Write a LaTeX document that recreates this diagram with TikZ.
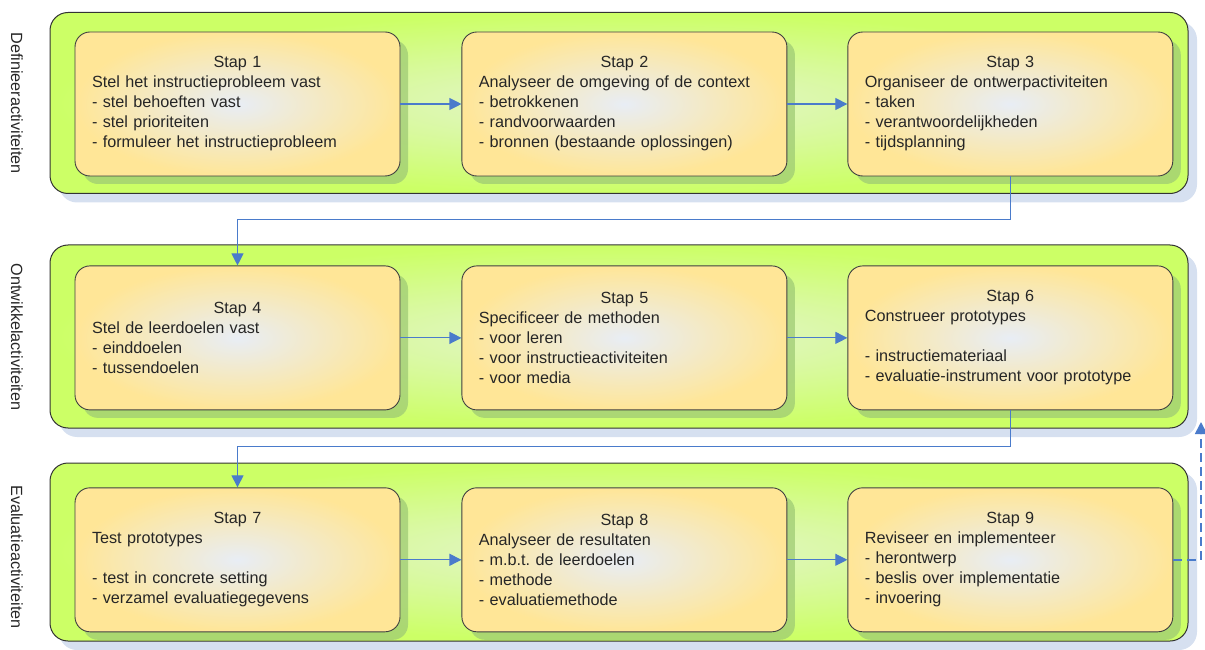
\documentclass[tikz,border=0pt]{standalone}
\usepackage{fontspec}
\setmainfont{Liberation Sans}
\usepackage{tikz}
\usetikzlibrary{arrows.meta, positioning, shadows}

\definecolor{limegreen}{HTML}{CCFF66}
\definecolor{palegreen}{HTML}{E4F4D2}
\definecolor{stepyellow}{HTML}{FFE697}
\definecolor{stepcenter}{HTML}{E8EDF5}
\definecolor{phaseshadow}{HTML}{D6E0F0}
\definecolor{stepshadow}{HTML}{9FCB74}
\definecolor{linkblue}{HTML}{4A7BCB}

\newcommand{\stephead}[1]{\makebox[\linewidth]{#1}}
\frenchspacing

\begin{document}
\begin{tikzpicture}[x=1pt,y=1pt,font=\fontsize{16.2}{20}\selectfont,
	phase/.style={draw=black!80,line width=1pt,rounded corners=18pt,inner sep=0pt,minimum width=1138pt,
		inner color=palegreen,outer color=limegreen,
		drop shadow={shadow xshift=9pt,shadow yshift=-9pt,fill=phaseshadow,opacity=1}},
	stepbox/.style={draw=black!75,line width=0.9pt,rounded corners=15pt,text width=291pt,inner xsep=17pt,
		minimum height=144pt,align=left,text=black!85,inner color=stepcenter,outer color=stepyellow,
		drop shadow={shadow xshift=8pt,shadow yshift=-8pt,fill=stepshadow,opacity=0.75}},
	phaselabel/.style={rotate=-90,text=black!85}]
	\useasboundingbox (0,0) rectangle (1205,649);
	
	\node[phase,minimum height=181pt] (F1) at (619,546) {};
	\node[phase,minimum height=183pt] (F2) at (619,312.5) {};
	\node[phase,minimum height=178pt] (F3) at (619,97) {};
	
	\node[phaselabel] (L1) at (17,546) {Definieeractiviteiten};
	\node[phaselabel] (L2) at (17,312) {Ontwikkelactiviteiten};
	\node[phaselabel] (L3) at (17,92) {Evaluatieactiviteiten};
	
	\node[stepbox] (S1) at (237.5,545) {\stephead{Stap 1}\\Stel het instructieprobleem vast\\- stel behoeften vast\\- stel prioriteiten\\- formuleer het instructieprobleem};
	\node[stepbox] (S2) [right=61pt of S1] {\stephead{Stap 2}\\Analyseer de omgeving of de context\\- betrokkenen\\- randvoorwaarden\\- bronnen (bestaande oplossingen)};
	\node[stepbox] (S3) [right=60pt of S2] {\stephead{Stap 3}\\Organiseer de ontwerpactiviteiten\\- taken\\- verantwoordelijkheden\\- tijdsplanning};
	\node[stepbox] (S4) [below=89pt of S1] {\stephead{Stap 4}\\Stel de leerdoelen vast\\- einddoelen\\- tussendoelen};
	\node[stepbox] (S5) [right=61pt of S4] {\stephead{Stap 5}\\Specificeer de methoden\\- voor leren\\- voor instructieactiviteiten\\- voor media};
	\node[stepbox] (S6) [right=60pt of S5] {\stephead{Stap 6}\\Construeer prototypes\\[20pt]- instructiemateriaal\\- evaluatie-instrument voor prototype};
	\node[stepbox] (S7) [below=77pt of S4] {\stephead{Stap 7}\\Test prototypes\\[20pt]- test in concrete setting\\- verzamel evaluatiegegevens};
	\node[stepbox] (S8) [right=61pt of S7] {\stephead{Stap 8}\\Analyseer de resultaten\\- m.b.t. de leerdoelen\\- methode\\- evaluatiemethode};
	\node[stepbox] (S9) [right=60pt of S8] {\stephead{Stap 9}\\Reviseer en implementeer\\- herontwerp\\- beslis over implementatie\\- invoering};
	\coordinate (back) at (1201,227);
	
	\tikzset{link/.style={draw=linkblue,line width=1.1pt,-{Triangle[length=12pt,width=12pt]}}}
	
	\path (S1) edge [link] (S2);
	\path (S2) edge [link] (S3);
	\path (S4) edge [link] (S5);
	\path (S5) edge [link] (S6);
	\path (S7) edge [link] (S8);
	\path (S8) edge [link] (S9);
	\draw[link] (S3.south) -- ++(0,-43) -| (S4.north);
	\draw[link] (S6.south) -- ++(0,-36) -| (S7.north);
	\draw[link,line width=1.8pt,dash pattern=on 9pt off 5pt] (S9.east) -| (back);
\end{tikzpicture}
\end{document}
